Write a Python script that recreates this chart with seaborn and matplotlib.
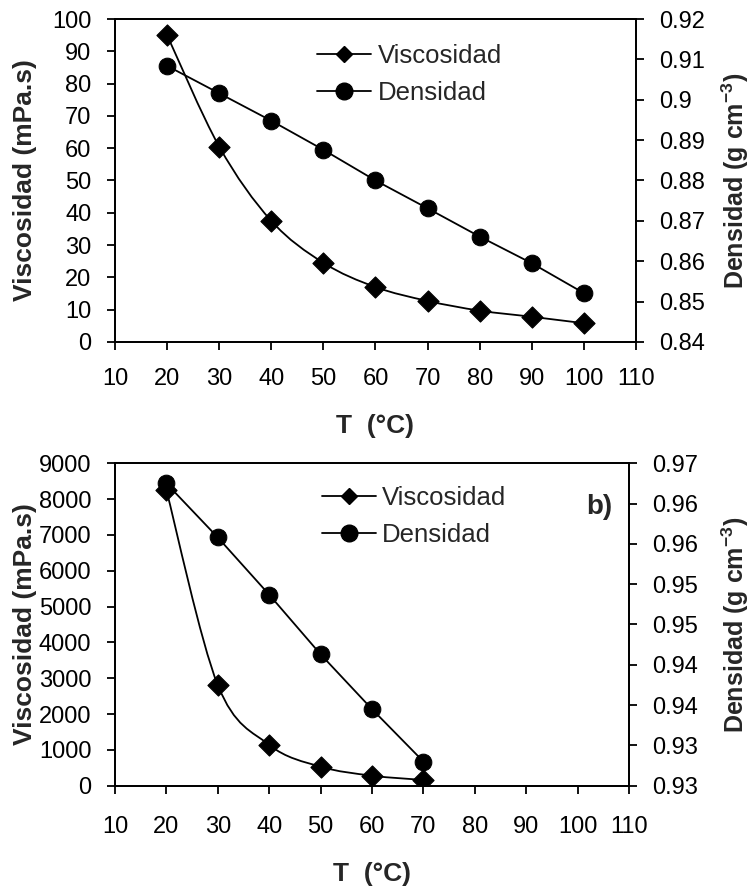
import numpy as np
import matplotlib
matplotlib.use('Agg')
import matplotlib.pyplot as plt
from matplotlib.path import Path
from matplotlib.patches import PathPatch
from matplotlib.lines import Line2D
import seaborn as sns

sns.set_style("ticks")
plt.rcParams['font.family'] = ['Liberation Sans', 'DejaVu Sans']
plt.rcParams['mathtext.fontset'] = 'custom'
plt.rcParams['mathtext.rm'] = 'Liberation Sans'
plt.rcParams['mathtext.bf'] = 'Liberation Sans:bold'

# panel a
temp_a = [20, 30, 40, 50, 60, 70, 80, 90, 100]
visc_a = [95, 60.5, 37.5, 24.5, 17, 12.7, 9.7, 7.8, 5.8]
dens_a = [0.9084, 0.9016, 0.8948, 0.8876, 0.8800, 0.8731, 0.8661, 0.8595, 0.8521]

# panel b
temp_b = [20, 30, 40, 50, 60, 70]
visc_b = [8250, 2810, 1140, 530, 280, 160]
dens_b = [0.9675, 0.9608, 0.9537, 0.9463, 0.9395, 0.9330]

x_ticks = list(range(10, 111, 10))
dens_ticks_a = [0.84, 0.85, 0.86, 0.87, 0.88, 0.89, 0.90, 0.91, 0.92]
dens_labels_a = ['0.84', '0.85', '0.86', '0.87', '0.88', '0.89', '0.9', '0.91', '0.92']
dens_ticks_b = [0.930, 0.935, 0.940, 0.945, 0.950, 0.955, 0.960, 0.965, 0.970]
dens_labels_b = ['0.93', '0.93', '0.94', '0.94', '0.95', '0.95', '0.96', '0.96', '0.97']

FS_TICK = 17
FS_LAB = 19
FS_LEG = 18.5
LW = 1.3


def smooth_path(xs, ys):
    # Excel-style smoothed line: cubic Bezier through the points
    p = np.column_stack([xs, ys]).astype(float)
    n = len(p)
    verts = [p[0]]
    codes = [Path.MOVETO]
    for i in range(n - 1):
        p_prev = p[i - 1] if i > 0 else p[i]
        p_next = p[i + 2] if i + 2 < n else p[i + 1]
        c1 = p[i] + (p[i + 1] - p_prev) / 6.0
        c2 = p[i + 1] - (p_next - p[i]) / 6.0
        verts += [c1, c2, p[i + 1]]
        codes += [Path.CURVE4] * 3
    return Path(verts, codes)


def panel(ax, t, visc, dens, ylim, yticks, dticks, dlabels, legend_xy, ylab_x, dlab_x, xpad):
    ax2 = ax.twinx()
    # viscosity: smoothed line + diamonds
    ax.add_patch(PathPatch(smooth_path(t, visc), fill=False, edgecolor='black', lw=LW, zorder=2))
    sns.scatterplot(x=t, y=visc, ax=ax, marker='D', s=115, color='black', edgecolor='black', zorder=3)
    # density: straight segments + circles
    sns.lineplot(x=t, y=dens, ax=ax2, color='black', lw=LW, marker='o', markersize=12,
                 markeredgecolor='black', zorder=3)

    ax.set_xlim(10, 110)
    ax.set_xticks(x_ticks)
    ax.set_ylim(*ylim)
    ax.set_yticks(yticks)
    ax2.set_ylim(dticks[0], dticks[-1])
    ax2.set_yticks(dticks)
    ax2.set_yticklabels(dlabels)

    for a in (ax, ax2):
        for s in a.spines.values():
            s.set_linewidth(LW)
            s.set_color('black')
            s.set_visible(True)
        a.tick_params(labelsize=FS_TICK, width=LW, length=6, direction='out', colors='black')
    ax.tick_params(axis='x', pad=xpad)
    ax.tick_params(axis='y', pad=11)
    ax2.tick_params(axis='y', pad=11)
    ax.set_xlabel('T  (°C)', fontsize=FS_LAB, fontweight='bold', labelpad=17)
    ax.set_ylabel('Viscosidad (mPa.s)', fontsize=FS_LAB, fontweight='bold')
    ax.yaxis.set_label_coords(ylab_x, 0.5)
    ax2.set_ylabel(r'Densidad (g cm$^{\mathbf{-3}}$)', fontsize=18, fontweight='bold')
    ax2.yaxis.set_label_coords(dlab_x, 0.5)

    handles = [Line2D([], [], color='black', lw=LW, marker='D', markersize=8),
               Line2D([], [], color='black', lw=LW, marker='o', markersize=12)]
    ax.legend(handles, ['Viscosidad', 'Densidad'], loc='upper left', bbox_to_anchor=legend_xy,
              frameon=False, fontsize=FS_LEG, handlelength=2.1, handletextpad=0.25,
              labelspacing=0.5, borderaxespad=0, borderpad=0)
    return ax2


fig = plt.figure(figsize=(7.54, 8.88), dpi=100)
ax_a = fig.add_axes([0.1525, 0.6149, 0.691, 0.3637])
ax_b = fig.add_axes([0.1525, 0.1152, 0.6817, 0.3631])

panel(ax_a, temp_a, visc_a, dens_a, (0, 100), list(range(0, 101, 10)),
      dens_ticks_a, dens_labels_a, (0.388, 0.922), -0.150, 1.161, 13)
panel(ax_b, temp_b, visc_b, dens_b, (0, 9000), list(range(0, 9001, 1000)),
      dens_ticks_b, dens_labels_b, (0.402, 0.930), -0.152, 1.177, 16)

ax_b.text(0.967, 0.863, 'b)', transform=ax_b.transAxes, fontsize=20, fontweight='bold',
          ha='right', va='center')

fig.savefig('out.png', dpi=100)
